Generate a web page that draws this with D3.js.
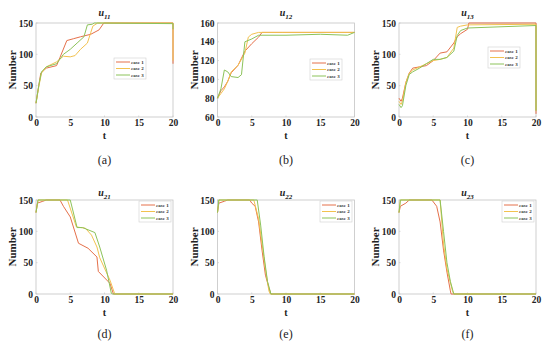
<!DOCTYPE html>
<html>
<head>
<meta charset="utf-8">
<script src="https://cdn.jsdelivr.net/npm/d3@7"></script>
<style>
  body { margin: 0; background: #fff; }
  text { font-family: "Liberation Serif", "Times New Roman", serif; }
</style>
</head>
<body>
<div id="container"></div>
<script>
// series data: [t, number]
const u11Case1 = [[0,22],[0.4,50],[0.7,70],[1.5,78],[3,82],[3.5,95],[4.5,122],[5.5,125],[6.5,128],[8,132],[9.2,139],[9.9,150],[20,150],[20,85]];
const u11Case2 = [[0,22],[0.4,48],[0.8,70],[1.5,80],[3,88],[4,97],[5,96],[5.7,98],[6.5,108],[7.5,118],[8,135],[8.3,145],[9,150],[20,150],[20,90]];
const u11Case3 = [[0,22],[0.4,50],[0.8,72],[1.5,80],[3,85],[4,100],[5,108],[6,118],[7,128],[7.5,147],[8.2,148],[8.5,150],[20,149],[20,140]];

const u12Case1 = [[0,80],[0.5,88],[1,92],[1.5,98],[2,107],[3,115],[4,130],[5,138],[6,145],[6.5,150],[9.5,150],[20,150]];
const u12Case2 = [[0,80],[0.5,85],[1,90],[1.5,98],[2,108],[3,115],[4,128],[4.5,145],[5,148],[6,150],[20,150]];
const u12Case3 = [[0,80],[0.5,90],[1,110],[1.5,108],[2,103],[3,102],[3.5,105],[4,140],[5,143],[6,147],[10,147],[15,148],[19,147],[20,150]];

const u13Case1 = [[0,30],[0.3,25],[0.5,30],[1,55],[1.5,70],[2,78],[3,80],[4,82],[5,90],[6,102],[7,104],[8,118],[8.5,128],[9,133],[10,140],[10.2,150],[20,150],[20,5]];
const u13Case2 = [[0,25],[0.3,20],[0.5,25],[1,55],[1.5,70],[2,75],[3,80],[4,85],[5,90],[6,92],[7,95],[8,110],[8.5,143],[9,145],[10,147],[20,148],[20,10]];
const u13Case3 = [[0,20],[0.3,15],[0.5,18],[1,50],[1.5,68],[2,72],[3,78],[4,85],[5,92],[6,92],[7,95],[8,105],[8.5,130],[9,138],[10,142],[20,146],[20,10]];

const u21Case1 = [[0,130],[0.2,145],[1,148],[1.5,150],[3.5,150],[4,140],[5,123],[6.2,81],[7.6,73],[8.9,59],[9.1,36],[10.8,17],[11.3,0],[20,0]];
const u21Case2 = [[0,130],[0.3,150],[4.6,150],[5.9,107],[7.2,105],[8.1,94],[8.9,75],[9.3,58],[10.8,22],[11.5,0],[20,0]];
const u21Case3 = [[0,130],[0.3,150],[5,150],[6,106],[6.8,106],[8.6,98],[9.3,75],[10.3,38],[11,1],[11.2,0],[20,0]];

const u22Case1 = [[0,130],[0.2,145],[1,148],[1.5,150],[4.7,150],[5,145],[5.5,140],[6,115],[6.5,70],[7,30],[7.5,10],[7.8,0],[20,0]];
const u22Case2 = [[0,130],[0.2,150],[5.3,150],[6,120],[6.5,80],[7,40],[7.5,5],[7.7,0],[20,0]];
const u22Case3 = [[0,130],[0.2,150],[5.8,150],[6.3,110],[6.8,60],[7.3,20],[7.8,0],[20,0]];

const u23Case1 = [[0,130],[0.2,140],[1,145],[1.5,150],[4.8,150],[5.5,140],[6,115],[6.5,70],[7,35],[7.5,5],[7.6,0],[20,0]];
const u23Case2 = [[0,130],[0.2,150],[5.8,150],[6,150],[6.5,80],[7,40],[7.8,5],[8,0],[20,0]];
const u23Case3 = [[0,130],[0.2,150],[6,150],[6.5,100],[7,50],[7.5,20],[8,0],[20,0]];

const caseNames = ["case 1", "case 2", "case 3"];
const caseColors = ["#e5704a", "#f2c24f", "#8cc35a"];
const xTicks = [0, 5, 10, 15, 20];
const yTicks150 = [0, 50, 100, 150];
const yTicks12 = [60, 80, 100, 120, 140, 160];
const panelLabels = ["(a)", "(b)", "(c)", "(d)", "(e)", "(f)"];
const panelSubs = ["11", "12", "13", "21", "22", "23"];

const panels = [
  { sub: panelSubs[0], label: panelLabels[0], yDomain: [0, 150], yTicks: yTicks150, series: [u11Case1, u11Case2, u11Case3], col: 0, row: 0, legend: [114, 58] },
  { sub: panelSubs[1], label: panelLabels[1], yDomain: [60, 160], yTicks: yTicks12, series: [u12Case1, u12Case2, u12Case3], col: 1, row: 0, legend: [310, 59] },
  { sub: panelSubs[2], label: panelLabels[2], yDomain: [0, 150], yTicks: yTicks150, series: [u13Case1, u13Case2, u13Case3], col: 2, row: 0, legend: [488, 47] },
  { sub: panelSubs[3], label: panelLabels[3], yDomain: [0, 150], yTicks: yTicks150, series: [u21Case1, u21Case2, u21Case3], col: 0, row: 1, legend: [139, 201] },
  { sub: panelSubs[4], label: panelLabels[4], yDomain: [0, 150], yTicks: yTicks150, series: [u22Case1, u22Case2, u22Case3], col: 1, row: 1, legend: [320, 201] },
  { sub: panelSubs[5], label: panelLabels[5], yDomain: [0, 150], yTicks: yTicks150, series: [u23Case1, u23Case2, u23Case3], col: 2, row: 1, legend: [502, 201] }
];

const w = 550;
const h = 347;
const lefts = [36, 217.5, 399];
const tops = [23, 200];
const pw = 137;
const ph = 94;

const svg = d3.select("#container").append("svg")
  .attr("width", w).attr("height", h);

panels.forEach(p => {
  const x0 = lefts[p.col];
  const y0 = tops[p.row];
  const g = svg.append("g").attr("transform", `translate(${x0},${y0})`);

  const xScale = d3.scaleLinear().domain([0, 20]).range([0, pw]);
  const yScale = d3.scaleLinear().domain(p.yDomain).range([ph, 0]);

  // frame
  g.append("rect")
    .attr("width", pw).attr("height", ph)
    .attr("fill", "none").attr("stroke", "#c4c4c4").attr("stroke-width", 0.8);

  // x axis
  const xAxis = d3.axisBottom(xScale).tickValues(xTicks).tickSize(0).tickPadding(2);
  const gx = g.append("g").attr("transform", `translate(0,${ph})`).call(xAxis);
  gx.select(".domain").remove();
  gx.selectAll("text")
    .attr("font-weight", "bold")
    .attr("font-size", 9.5).attr("fill", "#222");

  const yAxis = d3.axisLeft(yScale).tickValues(p.yTicks).tickSize(0).tickPadding(3);
  const gy = g.append("g").call(yAxis);
  gy.select(".domain").remove();
  gy.selectAll("text")
    .attr("font-weight", "bold")
    .attr("font-size", 9.5).attr("fill", "#222");

  // inward ticks
  g.selectAll(".xt").data(xTicks).enter().append("line")
    .attr("x1", d => xScale(d)).attr("x2", d => xScale(d))
    .attr("y1", ph).attr("y2", ph - 1.5)
    .attr("stroke", "#c4c4c4").attr("stroke-width", 0.6);
  g.selectAll(".yt").data(p.yTicks).enter().append("line")
    .attr("x1", 0).attr("x2", 1.5)
    .attr("y1", d => yScale(d)).attr("y2", d => yScale(d))
    .attr("stroke", "#c4c4c4").attr("stroke-width", 0.6);

  // lines
  const line = d3.line().x(d => xScale(d[0])).y(d => yScale(d[1]));
  p.series.forEach((s, i) => {
    g.append("path").datum(s)
      .attr("d", line)
      .attr("fill", "none")
      .attr("stroke", caseColors[i])
      .attr("stroke-width", 1);
  });

  // axis labels
  g.append("text")
    .attr("x", pw / 2).attr("y", ph + 22)
    .attr("text-anchor", "middle")
    .attr("font-weight", "bold").attr("font-size", 10).attr("fill", "#222")
    .text("t");
  g.append("text")
    .attr("transform", `translate(-20,${ph / 2}) rotate(-90)`)
    .attr("text-anchor", "middle")
    .attr("font-weight", "bold").attr("font-size", 11).attr("fill", "#222")
    .text("Number");

  // title
  const title = g.append("text")
    .attr("x", pw / 2).attr("y", p.row === 0 ? -7 : -4)
    .attr("text-anchor", "middle")
    .attr("font-style", "italic").attr("font-weight", "bold").attr("fill", "#222");
  title.append("tspan").attr("font-size", 10).text("u");
  title.append("tspan").attr("font-size", 7).attr("dy", 3).text(p.sub);

  // sub-figure label
  svg.append("text")
    .attr("x", x0 + pw / 2).attr("y", p.row === 0 ? 164 : 338)
    .attr("text-anchor", "middle")
    .attr("font-size", 12).attr("fill", "#222")
    .text(p.label);

  // legend
  const lg = svg.append("g").attr("transform", `translate(${p.legend[0]},${p.legend[1]})`);
  lg.append("rect").attr("width", 32).attr("height", 21)
    .attr("fill", "#fff").attr("stroke", "#cfcfcf").attr("stroke-width", 0.6);
  caseNames.forEach((name, i) => {
    lg.append("line")
      .attr("x1", 2).attr("x2", 16)
      .attr("y1", 4 + i * 6.5).attr("y2", 4 + i * 6.5)
      .attr("stroke", caseColors[i]).attr("stroke-width", 1);
    lg.append("text")
      .attr("x", 17).attr("y", 5.8 + i * 6.5)
      .attr("font-size", 5).attr("font-weight", "bold").attr("fill", "#333")
      .text(name);
  });
});
</script>
</body>
</html>
